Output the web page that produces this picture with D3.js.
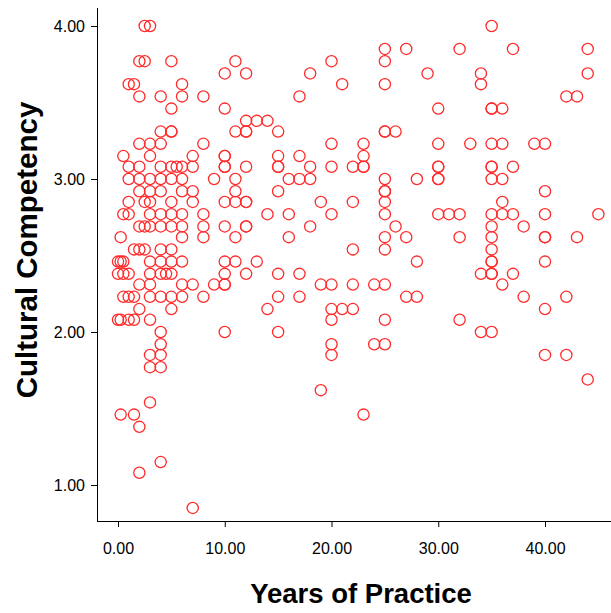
<!DOCTYPE html>
<html>
<head>
<meta charset="utf-8">
<script src="https://cdn.jsdelivr.net/npm/d3@7"></script>
<style>
  html, body { margin: 0; padding: 0; background: #fff; }
  svg { display: block; }
  .tick text { font-family: "Liberation Sans", Arial, sans-serif; font-size: 16px; fill: #000; }
  .title { font-family: "Liberation Sans", Arial, sans-serif; font-weight: bold; fill: #000; }
</style>
</head>
<body>
<svg id="chart" width="611" height="613"></svg>
<script>
// Cultural competency score levels (mean of 13 items) and the years of practice recorded at each level
const scoreLevels = [4.00, 3.85, 3.77, 3.69, 3.62, 3.54, 3.46, 3.38, 3.31, 3.23, 3.15, 3.08, 3.00,
  2.92, 2.85, 2.77, 2.69, 2.62, 2.54, 2.46, 2.38, 2.31, 2.23, 2.15, 2.08, 2.00,
  1.92, 1.85, 1.77, 1.69, 1.62, 1.54, 1.46, 1.38, 1.15, 1.08, 0.85];

const yearsAtLevel = [
  [2.5, 3, 35],
  [25, 27, 32, 37, 44],
  [2, 2.5, 5, 11, 20, 25],
  [10, 12, 18, 29, 34, 44],
  [1, 1.5, 6, 21, 25, 34],
  [2, 4, 6, 8, 17, 42, 43],
  [5, 10, 30, 35, 35, 36],
  [12, 13, 14],
  [4, 5, 5, 11, 12, 12, 15, 25, 25, 26],
  [2, 3, 4, 8, 20, 23, 30, 33, 35, 36, 39, 40],
  [0.5, 3, 7, 10, 10, 15, 17, 23],
  [1, 2, 4, 5, 5.5, 6, 7, 10, 10, 12, 15, 15, 18, 20, 22, 23, 23, 30, 30, 35, 35, 37],
  [1, 2, 3, 4, 5, 6, 9, 11, 16, 17, 18, 25, 28, 30, 30, 35, 36],
  [2, 3, 4, 6, 7, 11, 15, 25, 25, 40],
  [1, 2.5, 3, 5, 7, 10, 11, 12, 12, 19, 22, 25, 36],
  [0.5, 1, 3, 4, 5, 6, 8, 14, 16, 20, 25, 30, 31, 32, 35, 36, 37, 40, 45],
  [2, 2.5, 3, 4, 5, 6, 8, 10, 12, 12, 18, 26, 35, 38],
  [0.25, 6, 8, 11, 16, 25, 27, 32, 35, 40, 40, 43],
  [1.5, 2, 2.5, 4, 5, 22, 25, 35],
  [0, 0.25, 0.5, 3, 4, 5, 6, 10, 11, 13, 28, 35, 35, 40],
  [0, 0.5, 1, 3, 4, 4.5, 5, 10, 12, 15, 17, 34, 35, 35, 37],
  [2, 3, 6, 7, 9, 10, 10, 19, 20, 22, 24, 25, 36],
  [0.5, 1, 1.5, 3, 4, 5, 6, 8, 15, 17, 27, 28, 38, 42],
  [2, 5, 14, 20, 21, 22, 40],
  [0, 0.25, 1, 1.5, 3, 20, 25, 32],
  [4, 10, 15, 34, 35],
  [4, 20, 24, 25],
  [3, 4, 20, 40, 42],
  [3, 4],
  [44],
  [19],
  [3],
  [0.25, 1.5, 23],
  [2],
  [4],
  [2],
  [7]
];

const xTicks = [0, 10, 20, 30, 40];
const yTicks = [1, 2, 3, 4];
const xTitle = "Years of Practice";
const yTitle = "Cultural Competency";

// Flatten into one record per respondent
const points = [];
scoreLevels.forEach((s, i) => yearsAtLevel[i].forEach(yr => points.push({ years: yr, score: s })));

const svg = d3.select("#chart");
const plotLeft = 97, plotBottom = 521, plotRight = 611, plotTop = 8;

const x = d3.scaleLinear().domain([0, 40]).range([118, 545]);
const y = d3.scaleLinear().domain([1, 4]).range([485, 26]);

// Axes (no frame on top/right)
const xAxis = svg.append("g")
  .attr("transform", `translate(0,${plotBottom})`)
  .call(d3.axisBottom(x).tickValues(xTicks).tickFormat(d3.format(".2f")).tickSizeOuter(0).tickSize(6).tickPadding(16));
xAxis.select(".domain").remove();
svg.append("line").attr("x1", plotLeft).attr("x2", plotRight).attr("y1", plotBottom + 0.5).attr("y2", plotBottom + 0.5)
  .attr("stroke", "#000").attr("stroke-width", 1);

const yAxis = svg.append("g")
  .attr("transform", `translate(${plotLeft},0)`)
  .call(d3.axisLeft(y).tickValues(yTicks).tickFormat(d3.format(".2f")).tickSizeOuter(0).tickSize(6).tickPadding(6));
yAxis.select(".domain").remove();
svg.append("line").attr("x1", plotLeft + 0.5).attr("x2", plotLeft + 0.5).attr("y1", plotTop).attr("y2", plotBottom)
  .attr("stroke", "#000").attr("stroke-width", 1);

svg.selectAll(".tick line").attr("stroke", "#000");

// Markers
svg.append("g").selectAll("circle")
  .data(points)
  .enter().append("circle")
  .attr("cx", d => x(d.years))
  .attr("cy", d => y(d.score))
  .attr("r", 5.6)
  .attr("fill", "none")
  .attr("stroke", "#ff2a2a")
  .attr("stroke-width", 1.3);

// Axis titles
svg.append("text").attr("class", "title")
  .attr("x", 361).attr("y", 603)
  .attr("text-anchor", "middle")
  .style("font-size", "27.5px")
  .text(xTitle);

svg.append("text").attr("class", "title")
  .attr("transform", "translate(37,250) rotate(-90)")
  .attr("text-anchor", "middle")
  .style("font-size", "29.5px")
  .text(yTitle);
</script>
</body>
</html>
